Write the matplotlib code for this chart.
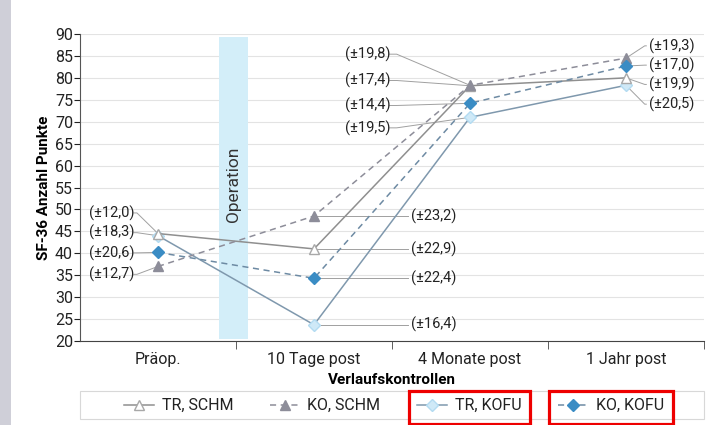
import numpy as np
import matplotlib
matplotlib.use('Agg')
import matplotlib.pyplot as plt
from matplotlib.patches import Rectangle

plt.rcParams['font.family'] = ['Roboto', 'DejaVu Sans']

# --- data ---
categories = ['Präop.', '10 Tage post', '4 Monate post', '1 Jahr post']
tr_schm = [44.5, 41.0, 78.2, 80.0]
ko_schm = [37.0, 48.5, 78.3, 84.5]
tr_kofu = [44.0, 23.7, 71.0, 78.3]
ko_kofu = [40.2, 34.3, 74.2, 82.7]

sd_tr_schm = ['12,0', '22,9', '17,4', '19,9']
sd_ko_schm = ['12,7', '23,2', '19,8', '19,3']
sd_tr_kofu = ['18,3', '16,4', '19,5', '20,5']
sd_ko_kofu = ['20,6', '22,4', '14,4', '17,0']

# label heights (y) for the SD labels, per time point
lab_tr_schm = [49.2, 41.0, 79.4, 78.5]
lab_ko_schm = [35.2, 48.5, 85.4, 87.3]
lab_tr_kofu = [44.7, 23.7, 68.6, 74.0]
lab_ko_kofu = [40.1, 34.3, 73.7, 82.9]

c_gray = '#8f8f8f'
c_gray2 = '#8d8d99'
c_blue_line = '#7f98ad'
c_blue_dark = '#3a8cc4'
c_blue_light = '#cfe9f7'
lead_col = '#a0a0a0'

fig = plt.figure(figsize=(7.13, 4.25), dpi=100)
fig.patch.set_facecolor('white')
# scanned page edge on the left
fig.patches.append(Rectangle((0, 0), 11 / 713, 1, transform=fig.transFigure,
                             facecolor='#cfcfd8', edgecolor='none', zorder=0))

ax = fig.add_axes([80 / 713, 1 - 341 / 425, 624 / 713, 307 / 425])
x = np.arange(len(categories))

ax.axvspan(0.39, 0.58, ymin=0.005, ymax=0.99, color='#d3eef9', zorder=1, lw=0)
ax.text(0.485, 55.8, 'Operation', rotation=90, ha='center', va='center',
        fontsize=12.5, color='#333333', zorder=2)

ax.plot(x, tr_schm, '-', color=c_gray, lw=1.1, marker='^', ms=7,
        mfc='white', mec='#a8a8a8', zorder=4, label='TR, SCHM')
ax.plot(x, ko_schm, '--', color=c_gray2, lw=1.1, marker='^', ms=7,
        mfc=c_gray2, mec=c_gray2, zorder=4, label='KO, SCHM', dashes=(4, 3))
ax.plot(x, tr_kofu, '-', color=c_blue_line, lw=1.1, marker='D', ms=6.5,
        mfc=c_blue_light, mec='#b3dbf1', zorder=3, label='TR, KOFU')
ax.plot(x, ko_kofu, '--', color='#6d8aa3', lw=1.1, marker='D', ms=6.5,
        mfc=c_blue_dark, mec=c_blue_dark, zorder=5, label='KO, KOFU', dashes=(4, 3))

series = [(tr_schm, sd_tr_schm, lab_tr_schm), (ko_schm, sd_ko_schm, lab_ko_schm),
          (tr_kofu, sd_tr_kofu, lab_tr_kofu), (ko_kofu, sd_ko_kofu, lab_ko_kofu)]

# label offsets: (text x, elbow x, alignment) relative to the point
offs = [(-0.17, -0.135, 'right'), (0.62, 0.60, 'left'),
        (-0.53, -0.47, 'right'), (0.145, 0.12, 'left')]

for vals, sds, labs in series:
    for i in range(4):
        tx, ex, ha = offs[i]
        ax.plot([i + tx + (0.015 if ha == 'right' else -0.015), i + ex, i],
                [labs[i], labs[i], vals[i]], color=lead_col, lw=0.7, zorder=2)
        ax.text(i + tx + (0.02 if ha == 'right' else 0), labs[i],
                '(\u00b1' + sds[i] + ')', ha=ha, va='center', fontsize=10.5,
                color='#222222', zorder=6)

ax.set_xlim(-0.5, 3.5)
ax.set_ylim(20, 90)
ax.set_yticks(np.arange(20, 91, 5))
ax.yaxis.grid(True, color='#e3e3e3', lw=0.8)
ax.set_axisbelow(True)
ax.set_xticks(x)
ax.set_xticklabels(categories)
ax.set_xticks(np.arange(0.5, 3.6, 1), minor=True)
ax.tick_params(axis='x', which='major', length=0, labelsize=11.5, pad=8, colors='#222222')
ax.tick_params(axis='x', which='minor', length=6, direction='out', color='#444444')
ax.tick_params(axis='y', length=4, labelsize=11.5, pad=1, colors='#222222')
for s in ['top', 'right']:
    ax.spines[s].set_visible(False)
ax.spines['left'].set_color('#555555')
ax.spines['bottom'].set_color('#444444')

ax.set_ylabel('SF-36 Anzahl Punkte', fontsize=11, fontweight='bold', labelpad=3)
ax.set_xlabel('Verlaufskontrollen', fontsize=11, fontweight='bold', labelpad=4)

# legend: frame drawn separately over the full axes width
ax.add_patch(Rectangle((0, -0.254), 1, 0.091, transform=ax.transAxes, clip_on=False,
                       fill=False, edgecolor='#d8d8d8', lw=0.8))
handles, labels = ax.get_legend_handles_labels()
leg = ax.legend(handles, labels, loc='center', ncol=4, bbox_to_anchor=(0.503, -0.211),
                frameon=False, fontsize=11.5, handlelength=1.9, handletextpad=0.45,
                columnspacing=2.3)
for t in leg.get_texts():
    t.set_color('#222222')

# red highlight boxes round the two KOFU legend entries
fig.canvas.draw()
r = fig.canvas.get_renderer()
inv = fig.transFigure.inverted()
for k in [2, 3]:
    tb = leg.get_texts()[k].get_window_extent(r)
    hb = leg.legend_handles[k].get_window_extent(r)
    x0, y0 = inv.transform((hb.x0 - 4, 1))
    x1, y1 = inv.transform((tb.x1 + 9, 425 - 391))
    fig.patches.append(Rectangle((x0, y0), x1 - x0, y1 - y0, transform=fig.transFigure,
                                 fill=False, edgecolor='#ee0000', lw=2.3, zorder=10))

fig.savefig('out.png', dpi=100)
